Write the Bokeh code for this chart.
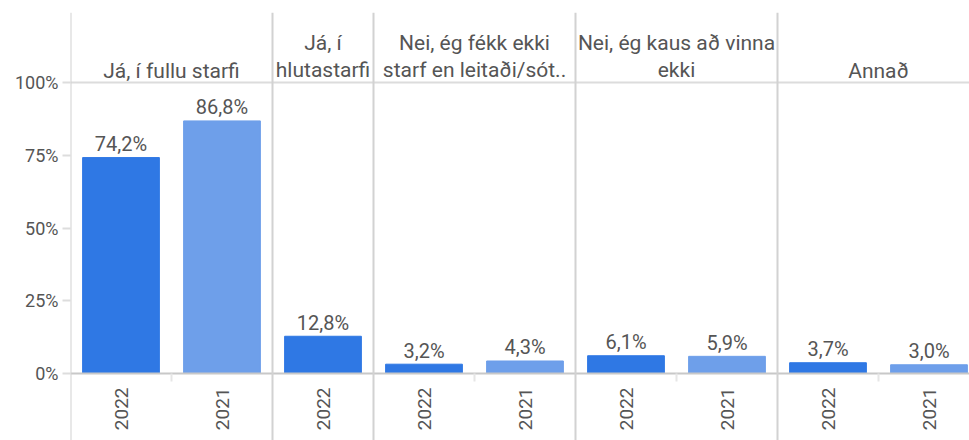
import math
from bokeh.plotting import figure
from bokeh.models import Range1d, FixedTicker, LinearAxis, Span, ColumnDataSource
from bokeh.core.properties import value
from bokeh.embed import file_html
from bokeh.resources import INLINE

# ---- data ----
categories = [
    "Já, í fullu starfi",
    "Já, í\nhlutastarfi",
    "Nei, ég fékk ekki\nstarf en leitaði/sót..",
    "Nei, ég kaus að vinna\nekki",
    "Annað",
]
years = ["2022", "2021"]
values_2022 = [74.2, 12.8, 3.2, 6.1, 3.7]
values_2021 = [86.8, None, 4.3, 5.9, 3.0]
y_ticks = [0, 25, 50, 75, 100]
y_tick_labels = ["0%", "25%", "50%", "75%", "100%"]

year_colors = {"2022": "#2f78e4", "2021": "#6e9fea"}

# ---- build columns ----
xs, tops, cols, labels, yrs = [], [], [], [], []
panel_start, panel_center, inner_bounds = [], [], []
col = 0
for i, cat in enumerate(categories):
    start = col
    for yr, vals in (("2022", values_2022), ("2021", values_2021)):
        v = vals[i]
        if v is None:
            continue
        xs.append(col + 0.5)
        tops.append(v)
        cols.append(year_colors[yr])
        labels.append(f"{v:.1f}%".replace(".", ","))
        yrs.append(yr)
        col += 1
    panel_start.append(start)
    panel_center.append((start + col) / 2)
    inner_bounds += list(range(start + 1, col))

src = ColumnDataSource(dict(x=xs, top=tops, color=cols, label=labels))

W, H = 969, 440
left_border = 70
top_border = 12
col_px = 101
frame_w = W - left_border
px_per_unit = 2.91
zero_px = 373
y_end = (zero_px - top_border) / px_per_unit
y_start = -(H - zero_px) / px_per_unit

FONT = "Roboto"
TXT = "#555555"

p = figure(
    width=W, height=H,
    x_range=Range1d(0, frame_w / col_px),
    y_range=Range1d(y_start, y_end),
    output_backend="svg", toolbar_location=None,
    x_axis_type=None, y_axis_type=None,
    min_border_left=left_border, min_border_right=0,
    min_border_top=top_border, min_border_bottom=0,
)
p.outline_line_color = None
p.background_fill_color = "white"
p.border_fill_color = "white"

# bars
p.vbar(x="x", top="top", bottom=0, width=0.76, color="color", source=src)

# value labels
p.text(x="x", y="top", text="label", source=src, text_align="center",
       text_baseline="bottom", y_offset=-1.5, text_font=value(FONT),
       text_font_size="20px", text_color=TXT)

# panel headers
p.text(x=panel_center, y=[100] * len(categories), text=categories,
       text_align="center", text_baseline="bottom", y_offset=0,
       text_line_height=1.15, text_font=value(FONT),
       text_font_size="21px", text_color=TXT)

# header separator and panel dividers
p.add_layout(Span(location=100, dimension="width", line_color="#dcdcdc", line_width=2))
for b in panel_start:
    p.add_layout(Span(location=b, dimension="height", line_color="#d2d2d2", line_width=2))

# y axis
yaxis = LinearAxis(
    ticker=FixedTicker(ticks=y_ticks),
    axis_line_color=None, major_tick_out=8, major_tick_in=0,
    major_tick_line_color="#dddddd", major_tick_line_width=2,
    minor_tick_line_color=None, major_label_standoff=4,
    major_label_text_font=FONT, major_label_text_font_size="18px",
    major_label_text_color=TXT,
    major_label_overrides={t: l for t, l in zip(y_ticks, y_tick_labels)},
)
p.add_layout(yaxis, "left")

# x axis (years)
xaxis = LinearAxis(
    ticker=FixedTicker(ticks=xs, minor_ticks=inner_bounds), fixed_location=0,
    axis_line_color="#c8c8c8", axis_line_width=2,
    major_tick_line_color=None, major_tick_out=0, major_tick_in=0,
    minor_tick_out=8, minor_tick_in=0, minor_tick_line_color="#e6e6e6",
    minor_tick_line_width=2,
    major_label_orientation=math.pi / 2, major_label_standoff=6,
    major_label_text_font=FONT, major_label_text_font_size="19px",
    major_label_text_color=TXT,
    major_label_overrides={x: y for x, y in zip(xs, yrs)},
)
p.add_layout(xaxis, "below")

open("out.html", "w").write(file_html(p, INLINE))
